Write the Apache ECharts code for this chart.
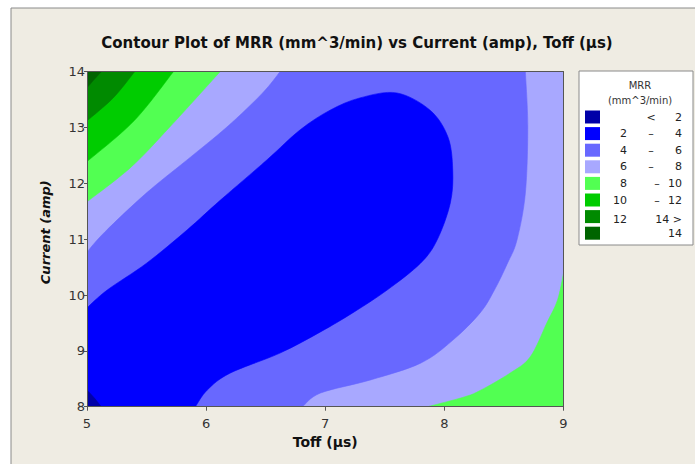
<!DOCTYPE html>
<html>
<head>
<meta charset="utf-8">
<script src="https://cdn.jsdelivr.net/npm/echarts@6/dist/echarts.min.js"></script>
<style>
html,body{margin:0;padding:0;background:#fff;}
#c{width:695px;height:464px;}
</style>
</head>
<body>
<div id="c"></div>
<script>
// ---- data (Toff in µs, Current in amp) ----
const xTicks = [5, 6, 7, 8, 9];
const yTicks = [8, 9, 10, 11, 12, 13, 14];

// plot corners (the 6-8 band fills whatever is not covered)
const plotCorners = [[5, 8], [9, 8], [9, 14], [5, 14]];

// contour lines (points on each boundary)
const contour14 = [[5.12, 14], [5.06, 13.86], [5, 13.71]];
const contour12 = [[5.40, 14], [5.22, 13.53], [5, 13.12]];
const contour10 = [[5.725, 14], [5.395, 13.12], [5, 12.39]];
const contour8UL = [[6.117, 14], [5.697, 13.015], [5.369, 12.29], [5, 11.67]];
const contour8LR = [[9, 10.39], [8.95, 9.91], [8.86, 9.50], [8.72, 8.89], [8.55, 8.60], [8.30, 8.29], [8.16, 8.17], [7.86, 8]];
const contour6UL = [[5, 10.77], [5.15, 11.13], [5.50, 11.83], [5.84, 12.42], [6.175, 13.01], [6.47, 13.61], [6.62, 14]];
const contour6R = [[8.68, 14], [8.70, 13.01], [8.68, 11.83], [8.61, 10.99], [8.53, 10.57], [8.42, 10.09], [8.30, 9.68],
  [8.07, 9.19], [7.80, 8.78], [7.38, 8.48], [6.96, 8.245], [6.81, 8]];
const contour4 = [[5, 9.77], [5.17, 10.09], [5.50, 10.57], [5.84, 11.165], [6.12, 11.70], [6.51, 12.42], [6.79, 12.96],
  [7.04, 13.31], [7.29, 13.53], [7.60, 13.62], [7.88, 13.31], [8.03, 12.83], [8.07, 12.24], [8.05, 11.65],
  [7.94, 10.99], [7.80, 10.57], [7.52, 10.09], [7.23, 9.68], [6.96, 9.34], [6.62, 8.96], [6.20, 8.60],
  [6.01, 8.30], [5.91, 8]];
const contour2 = [[5, 8.3], [5.06, 8.16], [5.12, 8]];

const cornerTL = [[5, 14]];
const cornerBL = [[5, 8]];
const cornerBR = [[9, 8]];

const legendLow = ['', '2', '4', '6', '8', '10', '12', ''];
const legendSep = ['<', '–', '–', '–', '–', '–', '', ''];
const legendHigh = ['2', '4', '6', '8', '10', '12', '14 >', '14'];
const bandColors = ['#0000a8', '#0000ff', '#6868ff', '#a8a8ff', '#52ff52', '#00cc00', '#008a00', '#006400'];

// ---- chart ----
const chart = echarts.init(document.getElementById('c'), null, {renderer: 'svg'});
const FONT = 'DejaVu Sans';

// smooth path through a curve (Catmull-Rom -> cubic bezier), in pixel space
function curvePath(p, first) {
  let d = (first ? 'M' : 'L') + p[0][0].toFixed(2) + ' ' + p[0][1].toFixed(2);
  for (let i = 0; i < p.length - 1; i++) {
    const p0 = p[i - 1] || p[i], p1 = p[i], p2 = p[i + 1], p3 = p[i + 2] || p[i + 1];
    const c1 = [p1[0] + (p2[0] - p0[0]) / 6, p1[1] + (p2[1] - p0[1]) / 6];
    const c2 = [p2[0] - (p3[0] - p1[0]) / 6, p2[1] - (p3[1] - p1[1]) / 6];
    d += 'C' + c1[0].toFixed(2) + ' ' + c1[1].toFixed(2) + ' ' + c2[0].toFixed(2) + ' ' + c2[1].toFixed(2) + ' ' + p2[0].toFixed(2) + ' ' + p2[1].toFixed(2);
  }
  return d;
}

// region = list of parts; each part {curve:[...]} or {line:[...]}
function regionSeries(parts, color) {
  const all = [];
  parts.forEach(pt => (pt.curve || pt.line).forEach(q => all.push(q)));
  return {
    type: 'custom',
    xAxisIndex: 0, yAxisIndex: 0,
    data: all,
    encode: {x: 0, y: 1},
    silent: true,
    animation: false,
    clip: true,
    renderItem: function (params, api) {
      if (params.dataIndex !== 0) return null;
      let d = '';
      parts.forEach((pt, k) => {
        const px = (pt.curve || pt.line).map(q => api.coord(q));
        if (pt.curve) {
          d += curvePath(px, k === 0);
        } else {
          px.forEach((q, j) => { d += ((k === 0 && j === 0) ? 'M' : 'L') + q[0].toFixed(2) + ' ' + q[1].toFixed(2); });
        }
      });
      d += 'Z';
      return {type: 'path', shape: {pathData: d}, style: {fill: color, stroke: color, lineWidth: 0.6}};
    }
  };
}

const series = [
  regionSeries([{line: plotCorners}], bandColors[3]),
  regionSeries([{curve: contour8UL}, {line: cornerTL}], bandColors[4]),
  regionSeries([{curve: contour10}, {line: cornerTL}], bandColors[5]),
  regionSeries([{curve: contour12}, {line: cornerTL}], bandColors[6]),
  regionSeries([{curve: contour14}, {line: cornerTL}], bandColors[7]),
  regionSeries([{curve: contour8LR}, {line: cornerBR}], bandColors[4]),
  regionSeries([{curve: contour6UL}, {curve: contour6R}, {line: cornerBL}], bandColors[2]),
  regionSeries([{curve: contour4}, {line: cornerBL}], bandColors[1]),
  regionSeries([{curve: contour2}, {line: cornerBL}], bandColors[0])
];

// legend graphics
const legendElems = [];
legendElems.push({type: 'rect', shape: {x: 579, y: 71, width: 114, height: 174}, style: {fill: '#ffffff', stroke: '#8a8a8a', lineWidth: 1}});
legendElems.push({type: 'text', x: 640, y: 85, style: {text: 'MRR', font: '10px ' + FONT, fill: '#333', align: 'center', verticalAlign: 'middle'}});
legendElems.push({type: 'text', x: 640, y: 100, style: {text: '(mm^3/min)', font: '10px ' + FONT, fill: '#333', align: 'center', verticalAlign: 'middle'}});
for (let i = 0; i < bandColors.length; i++) {
  const cy = 117 + i * 16.6;
  legendElems.push({type: 'rect', shape: {x: 585, y: cy - 6.5, width: 15, height: 13}, style: {fill: bandColors[i]}});
  const ty = (i === 6) ? cy + 3 : cy;
  if (legendLow[i]) legendElems.push({type: 'text', x: 627, y: ty, style: {text: legendLow[i], font: '11px ' + FONT, fill: '#222', align: 'right', verticalAlign: 'middle'}});
  if (legendSep[i]) legendElems.push({type: 'text', x: i < 4 ? 651 : 657, y: ty, style: {text: legendSep[i], font: '11px ' + FONT, fill: '#222', align: 'center', verticalAlign: 'middle'}});
  legendElems.push({type: 'text', x: 682, y: ty, style: {text: legendHigh[i], font: '11px ' + FONT, fill: '#222', align: 'right', verticalAlign: 'middle'}});
}

const axisCommon = {
  axisLine: {show: true, onZero: false, lineStyle: {color: '#555', width: 1}},
  splitLine: {show: false},
  z: 10
};

chart.setOption({
  animation: false,
  backgroundColor: '#ffffff',
  title: {
    text: 'Contour Plot of MRR (mm^3/min) vs Current (amp), Toff (µs)',
    left: 352, top: 30, textAlign: 'center',
    textStyle: {fontFamily: FONT, fontSize: 15, fontWeight: 'bold', color: '#111'}
  },
  grid: {left: 87, right: 131.5, top: 71.7, bottom: 57.3, show: false},
  xAxis: [
    Object.assign({}, axisCommon, {
      type: 'value', min: xTicks[0], max: xTicks[xTicks.length - 1], interval: 1, position: 'bottom',
      axisTick: {show: true, inside: false, length: 4, lineStyle: {color: '#555'}},
      axisLabel: {fontFamily: FONT, fontSize: 13, color: '#333', margin: 10},
      name: 'Toff (µs)', nameLocation: 'middle', nameGap: 28,
      nameTextStyle: {fontFamily: FONT, fontSize: 14, fontWeight: 'bold', color: '#111'}
    }),
    Object.assign({}, axisCommon, {
      type: 'value', min: xTicks[0], max: xTicks[xTicks.length - 1], position: 'top',
      axisTick: {show: false}, axisLabel: {show: false}
    })
  ],
  yAxis: [
    Object.assign({}, axisCommon, {
      type: 'value', min: yTicks[0], max: yTicks[yTicks.length - 1], interval: 1, position: 'left',
      axisTick: {show: true, inside: false, length: 3, lineStyle: {color: '#555'}},
      axisLabel: {fontFamily: FONT, fontSize: 13, color: '#333', margin: 2},
      name: 'Current (amp)', nameLocation: 'middle', nameGap: 35,
      nameTextStyle: {fontFamily: FONT, fontSize: 13, fontWeight: 'bold', fontStyle: 'italic', color: '#111', padding: [0, 0, 0, 14]}
    }),
    Object.assign({}, axisCommon, {
      type: 'value', min: yTicks[0], max: yTicks[yTicks.length - 1], position: 'right',
      axisTick: {show: false}, axisLabel: {show: false}
    })
  ],
  graphic: {
    elements: [
      {type: 'rect', z: -100, shape: {x: 11, y: 8, width: 700, height: 470}, style: {fill: '#efece3', stroke: '#8a8a8a', lineWidth: 1}}
    ].concat(legendElems)
  },
  series: series
});
</script>
</body>
</html>
